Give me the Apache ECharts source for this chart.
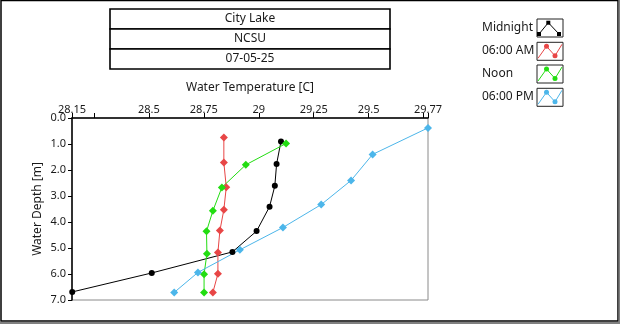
<!DOCTYPE html>
<html><head><meta charset="utf-8">
<script src="https://cdn.jsdelivr.net/npm/echarts@6/dist/echarts.min.js"></script>
<style>html,body{margin:0;padding:0;background:#fff}#c{width:620px;height:324px}</style>
</head><body><div id="c"></div>
<script>
// ---- data ----
const titleLines = ['City Lake', 'NCSU', '07-05-25'];
const seriesNames = ['Midnight', '06:00 AM', 'Noon', '06:00 PM'];
const xLabelValues = [28.15, 28.5, 28.75, 29, 29.25, 29.5, 29.77];
const xTickValues = [28.15, 28.25, 28.5, 28.75, 29, 29.25, 29.5, 29.75, 29.77];

const midnightTemp  = [29.101, 29.081, 29.073, 29.049, 28.990, 28.880, 28.513, 28.151];
const midnightDepth = [0.90, 1.77, 2.61, 3.41, 4.35, 5.15, 5.96, 6.69];
const amTemp  = [28.841, 28.841, 28.852, 28.841, 28.823, 28.814, 28.814, 28.791];
const amDepth = [0.75, 1.71, 2.66, 3.53, 4.33, 5.17, 5.99, 6.71];
const noonTemp  = [29.124, 28.941, 28.832, 28.791, 28.762, 28.764, 28.751, 28.751];
const noonDepth = [0.98, 1.80, 2.67, 3.57, 4.36, 5.22, 6.01, 6.71];
const pmTemp  = [29.770, 29.518, 29.420, 29.284, 29.110, 28.914, 28.723, 28.615];
const pmDepth = [0.38, 1.40, 2.40, 3.33, 4.21, 5.07, 5.94, 6.71];

// ---- styles ----
const colors = ['#000000', '#e84646', '#22dd11', '#4cb6ea'];
const FONT = 'Noto Sans';
const TXT = '#1a1a1a';

const temps = [midnightTemp, amTemp, noonTemp, pmTemp];
const depths = [midnightDepth, amDepth, noonDepth, pmDepth];

const series = seriesNames.map((name, i) => ({
  name: name,
  type: 'line',
  clip: false,
  data: temps[i].map((t, k) => [t, depths[i][k]]),
  symbol: i === 0 ? 'circle' : 'diamond',
  symbolSize: i === 0 ? 6 : 8,
  showSymbol: true,
  lineStyle: { color: colors[i], width: 1 },
  itemStyle: { color: colors[i] },
  emphasis: { disabled: true }
}));

const graphics = [];
// outer frame
graphics.push({ type: 'rect', shape: { x: 1, y: 0.5, width: 617, height: 320.5 }, style: { fill: 'none', stroke: '#000', lineWidth: 1.5 } });
graphics.push({ type: 'line', shape: { x1: 619.5, y1: 0, x2: 619.5, y2: 324 }, style: { stroke: '#808080', lineWidth: 2 } });
graphics.push({ type: 'line', shape: { x1: 0, y1: 323, x2: 620, y2: 323 }, style: { stroke: '#808080', lineWidth: 2 } });
// title boxes
const boxTop = [9, 29, 49];
titleLines.forEach((t, i) => {
  graphics.push({ type: 'rect', shape: { x: 110, y: boxTop[i], width: 280, height: 20 }, style: { fill: '#fff', stroke: '#000', lineWidth: 1.6 } });
  graphics.push({ type: 'text', x: 250, y: boxTop[i] + 10, style: { text: t, fill: TXT, font: '12px "' + FONT + '"', align: 'center', verticalAlign: 'middle' } });
});
// legend icons
const iconTop = [19, 42.3, 65, 88.3];
seriesNames.forEach((n, i) => {
  const x0 = 537, y0 = iconTop[i];
  graphics.push({ type: 'rect', shape: { x: x0, y: y0, width: 26, height: 18 }, style: { fill: '#fff', stroke: '#222', lineWidth: 1 } });
  let pts, marks;
  if (i === 0) {
    pts = [[2, 15], [11.3, 3.7], [22, 15]];
    marks = pts;
  } else {
    pts = [[1, 16], [9.5, 4], [18, 13.5], [25, 2]];
    marks = [pts[1], pts[2]];
  }
  graphics.push({ type: 'polyline', shape: { points: pts.map(p => [x0 + p[0], y0 + p[1]]) }, style: { fill: 'none', stroke: colors[i], lineWidth: 1 } });
  marks.forEach(p => {
    if (i === 0) {
      graphics.push({ type: 'rect', shape: { x: x0 + p[0] - 2, y: y0 + p[1] - 2, width: 4, height: 4 }, style: { fill: colors[i] } });
    } else {
      graphics.push({ type: 'circle', shape: { cx: x0 + p[0], cy: y0 + p[1], r: 2.5 }, style: { fill: colors[i] } });
    }
  });
});

const chart = echarts.init(document.getElementById('c'), null, { renderer: 'canvas' });
chart.setOption({
  animation: false,
  textStyle: { fontFamily: FONT },
  grid: { left: 72, right: 192, top: 118, bottom: 24, show: true, borderColor: '#8a8a8a', borderWidth: 1, backgroundColor: '#fff' },
  legend: {
    data: seriesNames,
    orient: 'vertical',
    left: 482, top: 19, padding: 0,
    itemWidth: 27, itemHeight: 18, itemGap: 5,
    align: 'right',
    icon: 'rect',
    itemStyle: { opacity: 0 },
    selectedMode: false,
    formatter: n => '{a|' + n + '}',
    textStyle: { rich: { a: { width: 50, align: 'left', fontSize: 12, color: TXT, fontFamily: FONT } } }
  },
  xAxis: {
    type: 'value', position: 'top', min: 28.15, max: 29.77,
    name: 'Water Temperature [C]', nameLocation: 'middle', nameGap: 24, nameMoveOverlap: false,
    nameTextStyle: { fontSize: 12, color: TXT, fontFamily: FONT },
    axisLine: { show: true, lineStyle: { color: '#000', width: 1.5 } },
    axisTick: { show: true, length: 5, customValues: xTickValues, lineStyle: { color: '#000' } },
    axisLabel: { customValues: xLabelValues, margin: 3, fontSize: 11, color: TXT, fontFamily: FONT, formatter: v => String(+v.toFixed(2)) },
    splitLine: { show: false }
  },
  yAxis: {
    type: 'value', inverse: true, min: 0, max: 7, interval: 1,
    name: 'Water Depth [m]', nameLocation: 'middle', nameGap: 28, nameMoveOverlap: false,
    nameTextStyle: { fontSize: 12, color: TXT, fontFamily: FONT },
    axisLine: { show: true, lineStyle: { color: '#000', width: 1.5 } },
    axisTick: { show: true, length: 4, lineStyle: { color: '#000' } },
    axisLabel: { margin: 6, fontSize: 11, color: TXT, fontFamily: FONT, formatter: v => v.toFixed(1) },
    splitLine: { show: false }
  },
  graphic: graphics,
  series: series
});
</script></body></html>
